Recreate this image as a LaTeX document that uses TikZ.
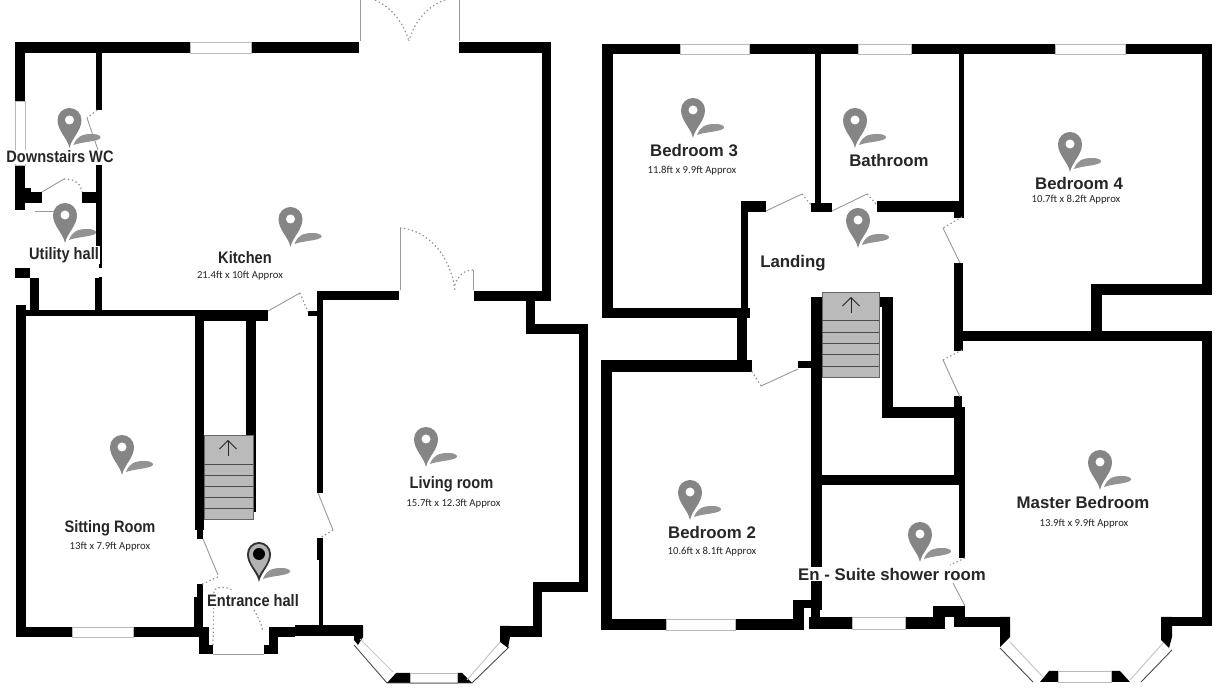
\documentclass[tikz,border=0pt]{standalone}
\usepackage{fontspec}
\usetikzlibrary{arrows.meta}
\setmainfont{Liberation Sans}
\newfontfamily\narrowfont[FakeStretch=0.88]{Liberation Sans}
\newfontfamily\sizefont{Carlito}
\definecolor{pincolor}{gray}{0.52}
\definecolor{stepfill}{gray}{0.73}
\tikzset{
    wall/.style={fill=black},
    windowpane/.style={fill=white, draw=gray!55, line width=0.35pt},
    bayouter/.style={draw=black!70, line width=0.45pt},
    bayinner/.style={draw=gray!45, line width=0.5pt},
    doorleaf/.style={draw=gray!80, line width=0.45pt},
    doorswing/.style={draw=gray!85, line width=0.6pt, dash pattern=on 0.7pt off 1.3pt},
    roomlabel/.style={inner sep=0.6pt, yshift=-0.5pt, text=black!85, font=\fontsize{8.4}{9}\selectfont\bfseries},
    narrowlabel/.style={inner sep=0.6pt, yshift=-0.5pt, text=black!85, font=\fontsize{8.3}{9}\selectfont\narrowfont\bfseries},
    sizelabel/.style={inner sep=0pt, yshift=-0.5pt, text=black!85, font=\fontsize{5.35}{6}\selectfont\sizefont},
    coverlabel/.style={fill=white},
    stairarrow/.style={->, black!85, line width=0.45pt, >={Straight Barb[length=4.2pt, width=8.5pt]}},
    pics/pin/.style={code={
        \fill[gray!85] (4,-3) .. controls (7,-11) and (12,-14) .. (22,-14) .. controls (30,-14) and (33,-11) .. (30,-9) .. controls (24,-6) and (12,-6) .. (4,-3) -- cycle;
        \fill[#1] (0,0) .. controls (-2,-10) and (-12,-17) .. (-12,-28) arc[start angle=180, end angle=360, radius=12] .. controls (12,-17) and (2,-10) .. (0,0) -- cycle;
    }},
    pics/roompin/.style={code={
        \pic {pin=pincolor};
        \fill[white] (0,-28) circle[radius=4.5];
    }},
    pics/hallpin/.style={code={
        \pic {pin=black!80};
        \fill[gray!60] (0,-6) .. controls (-2,-12) and (-10,-18) .. (-10,-28) arc[start angle=180, end angle=360, radius=10] .. controls (10,-18) and (2,-12) .. (0,-6) -- cycle;
        \fill[black] (0,-28) circle[radius=6];
    }},
}
\begin{document}
\begin{tikzpicture}[x=0.5pt, y=-0.5pt]
    \useasboundingbox (0, 0) rectangle (1216, 688);
    \fill[white] (0, 0) rectangle (1216, 688);
    %walls of the ground floor
    \foreach \xa/\ya/\xb/\yb in {15/42/359/53, 15/42/25/101, 15/165/25/210, 25/188/31/192, 15/192/42/203,
        82/192/99/203, 96/42/102/110, 96/165/102/268, 95/277/102/310, 15/268/30/278, 30/268/39/310,
        16/305/26/637, 16/310/195/316, 195/310/268/321, 195/310/204/530, 197/530/203/539, 197/584/203/600,
        194/597/203/627, 16/627/209/637, 199/627/209/654, 199/645/213/654, 264/645/278/654, 269/627/278/654,
        269/627/295/637, 295/625/363/636, 246/310/256/512, 317/291/323/493, 318/291/399/300, 308/311/318/316,
        317/538/323/560, 319/560/323/626, 474/291/551/301, 542/42/551/301, 459/42/551/53, 526/301/535/334,
        526/324/588/334, 579/324/588/592, 533/582/588/592, 533/582/542/637, 500/626/542/637}
        \fill[wall] (\xa, \ya) rectangle (\xb, \yb);
    \fill[wall] (363, 626) -- (363, 637) -- (358, 645) -- (354, 640) -- (354, 626) -- cycle;
    \fill[wall] (500, 626) -- (500, 642) -- (508, 648) -- (510, 637) -- (510, 626) -- cycle;
    \fill[wall] (387, 683) -- (396, 673) -- (410, 673) -- (410, 683) -- cycle;
    \fill[wall] (457, 673) -- (462, 673) -- (472, 683) -- (457, 683) -- cycle;
    %walls of the first floor
    \foreach \xa/\ya/\xb/\yb in {602/44/1212/54, 602/44/613/318, 602/308/750/318, 741/201/748/308, 737/308/747/372,
        741/201/766/212, 815/54/821/203, 811/203/832/212, 877/201/963/212, 959/54/964/218, 954/212/963/218,
        954/263/963/351, 955/331/1212/341, 954/396/962/407, 954/407/965/485, 959/485/965/558, 882/407/965/418,
        882/297/893/418, 878/297/893/307, 811/297/822/610, 798/361/811/368, 820/475/960/485, 601/360/752/372,
        601/360/612/630, 601/619/804/630, 793/600/804/630, 793/600/820/608, 809/617/945/629, 811/600/820/629,
        933/606/965/617, 954/617/1010/627, 1161/617/1212/626, 1202/331/1212/626, 1202/44/1212/295,
        1091/284/1212/295, 1091/284/1102/331}
        \fill[wall] (\xa, \ya) rectangle (\xb, \yb);
    \fill[wall] (1000, 617) -- (1000, 647) -- (1010, 637) -- (1010, 617) -- cycle;
    \fill[wall] (1161, 617) -- (1161, 640) -- (1169, 648) -- (1172, 637) -- (1172, 617) -- cycle;
    \fill[wall] (1040, 682) -- (1049, 671) -- (1058, 671) -- (1058, 682) -- cycle;
    \fill[wall] (1111, 671) -- (1120, 671) -- (1130, 682) -- (1111, 682) -- cycle;
    %windows
    \foreach \xa/\ya/\xb/\yb in {190/42/251/53, 15/101/25/165, 72/627/133/637, 410/673/457/683,
        680/44/749/54, 858/44/911/54, 1055/44/1125/54, 666/619/735/630, 852/617/905/629, 1058/671/1111/682}
        \draw[windowpane] (\xa, \ya) rectangle (\xb, \yb);
    %bay windows
    \draw[bayouter] (354, 645) -- (387, 683) -- (472, 683) -- (509, 647);
    \draw[bayinner] (360, 639) -- (393, 672);
    \draw[bayinner] (500, 642) -- (467, 680);
    \draw[bayouter] (1000, 648) -- (1033, 682);
    \draw[bayinner] (1010, 642) -- (1043, 677);
    \draw[bayouter] (1172, 650) -- (1141, 682);
    \draw[bayinner] (1163, 643) -- (1130, 680);
    \draw[doorleaf] (213, 654) -- (264, 654);
    %doors of the ground floor
    \draw[doorleaf] (360, 0) -- (360, 41);
    \draw[doorleaf] (459, 0) -- (459, 41);
    \draw[doorswing] (375, 0) .. controls (392, 8) and (403, 22) .. (409, 41);
    \draw[doorswing] (445, 0) .. controls (428, 6) and (415, 20) .. (409, 41);
    \draw[doorleaf] (400, 228) -- (400, 290);
    \draw[doorswing] (400, 228) .. controls (428, 230) and (450, 255) .. (455, 290);
    \draw[doorleaf] (473, 270) -- (473, 290);
    \draw[doorswing] (473, 270) .. controls (465, 270) and (458, 275) .. (455, 285);
    \draw[doorleaf] (268, 311) -- (300, 293);
    \draw[doorswing] (300, 293) -- (308, 312);
    \draw[doorswing] (97, 110) -- (87, 118);
    \draw[doorleaf] (87, 118) -- (98, 150);
    \draw[doorleaf] (42, 192) -- (64, 179);
    \draw[doorswing] (64, 179) .. controls (72, 179) and (80, 181) .. (82, 192);
    \draw[doorleaf] (35, 211) -- (62, 211);
    \draw[doorleaf] (318, 493) -- (333, 530);
    \draw[doorswing] (333, 530) -- (320, 538);
    \draw[doorleaf] (203, 539) -- (218, 575);
    \draw[doorswing] (218, 577) -- (200, 585);
    \draw[doorswing] (213, 645) -- (214, 590) .. controls (218, 586) and (228, 587) .. (232, 590);
    \draw[doorswing] (254, 610) .. controls (258, 617) and (262, 625) .. (263, 632);
    %doors of the first floor
    \draw[doorleaf] (766, 211) -- (802, 194);
    \draw[doorswing] (802, 194) -- (811, 205);
    \draw[doorleaf] (832, 211) -- (867, 194);
    \draw[doorswing] (867, 194) -- (877, 205);
    \draw[doorleaf] (798, 369) -- (761, 386);
    \draw[doorswing] (761, 386) -- (751, 370);
    \draw[doorswing] (962, 217) -- (943, 228);
    \draw[doorleaf] (943, 228) -- (960, 263);
    \draw[doorswing] (962, 350) -- (943, 360);
    \draw[doorleaf] (943, 360) -- (960, 397);
    \draw[doorswing] (965, 558) -- (950, 565);
    \draw[doorleaf] (953, 583) -- (965, 606);
    %stairs
    \fill[stepfill, draw=black!60, line width=0.4pt] (204, 435) rectangle (253, 519);
    \foreach \stepy in {464, 475, 486, 497, 508}
        \draw[black!70, line width=0.4pt] (204, \stepy) -- (253, \stepy);
    \draw[stairarrow] (228, 456) -- (228, 440);
    \fill[stepfill, draw=black!60, line width=0.4pt] (822, 292) rectangle (879, 377);
    \foreach \stepy in {320, 332, 343, 354, 366}
        \draw[black!70, line width=0.4pt] (822, \stepy) -- (879, \stepy);
    \draw[stairarrow] (851, 313) -- (851, 297);
    %pins
    \pic at (69.5, 148) {roompin};
    \pic at (65, 243) {roompin};
    \pic at (290.5, 247) {roompin};
    \pic at (122, 475) {roompin};
    \pic at (259, 582) {hallpin};
    \pic at (426, 467) {roompin};
    \pic at (693, 138) {roompin};
    \pic at (855, 148) {roompin};
    \pic at (1070, 172) {roompin};
    \pic at (858, 248) {roompin};
    \pic at (690, 520) {roompin};
    \pic at (920, 562) {roompin};
    \pic at (1100, 490) {roompin};
    %opening under the utility hall
    \fill[white] (30, 262) rectangle (99, 278);
    %labels
    \node[narrowlabel, coverlabel] (wc) at (60, 156) {Downstairs WC};
    \node[narrowlabel, coverlabel] (utility) at (64, 254) {Utility hall};
    \node[narrowlabel] (kitchen) at (245, 257) {Kitchen};
    \node[sizelabel] (kitchensize) at (240, 275) {21.4ft x 10ft Approx};
    \node[narrowlabel] (sitting) at (110, 527) {Sitting Room};
    \node[sizelabel] (sittingsize) at (110, 546) {13ft x 7.9ft Approx};
    \node[narrowlabel, coverlabel] (entrance) at (253, 600) {Entrance hall};
    \node[narrowlabel] (living) at (451.5, 483) {Living room};
    \node[sizelabel] (livingsize) at (453.5, 503) {15.7ft x 12.3ft Approx};
    \node[roomlabel] (bedthree) at (694, 150) {Bedroom 3};
    \node[sizelabel] (bedthreesize) at (692, 170) {11.8ft x 9.9ft Approx};
    \node[roomlabel] (bathroom) at (889, 160) {Bathroom};
    \node[roomlabel] (bedfour) at (1079, 183) {Bedroom 4};
    \node[sizelabel] (bedfoursize) at (1076, 199) {10.7ft x 8.2ft Approx};
    \node[roomlabel] (landing) at (793, 262) {Landing};
    \node[roomlabel] (bedtwo) at (712, 531.5) {Bedroom 2};
    \node[sizelabel] (bedtwosize) at (712, 551) {10.6ft x 8.1ft Approx};
    \node[roomlabel, coverlabel] (ensuite) at (892, 573) {En - Suite shower room};
    \node[roomlabel] (master) at (1083, 501) {Master Bedroom};
    \node[sizelabel] (mastersize) at (1084, 523) {13.9ft x 9.9ft Approx};
\end{tikzpicture}
\end{document}
